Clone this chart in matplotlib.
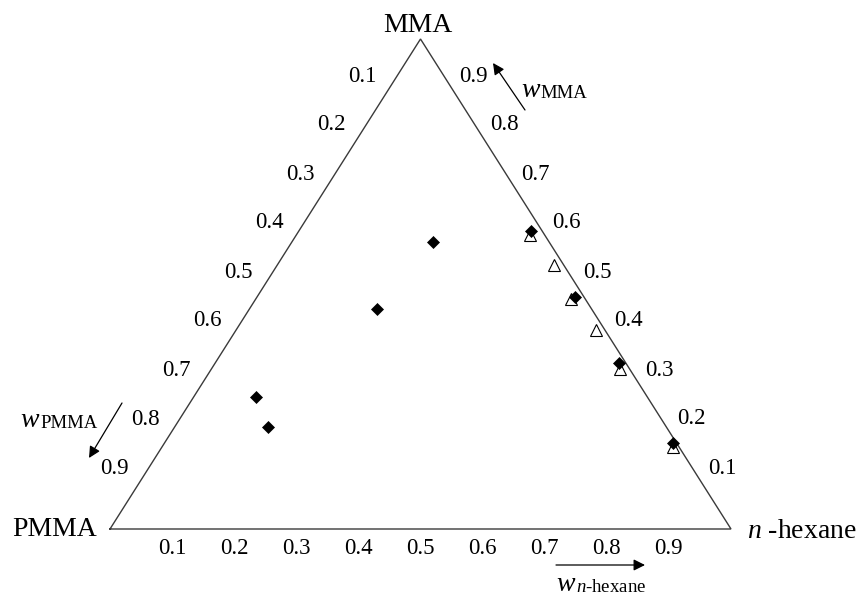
import numpy as np
import matplotlib
matplotlib.use("Agg")
import matplotlib.pyplot as plt
from matplotlib.transforms import offset_copy

plt.rcParams['font.family'] = ['Liberation Serif', 'DejaVu Serif']
plt.rcParams['mathtext.fontset'] = 'custom'
plt.rcParams['mathtext.rm'] = 'Liberation Serif'
plt.rcParams['mathtext.it'] = 'Liberation Serif:italic'

# ---- data (mass fractions) ----
# filled diamonds
dia_pmma = [0.187, 0.345, 0.631, 0.641, 0.018, 0.015, 0.011, 0.005]
dia_mma  = [0.586, 0.450, 0.269, 0.209, 0.609, 0.473, 0.338, 0.176]
dia_hex  = [0.227, 0.205, 0.100, 0.150, 0.373, 0.512, 0.651, 0.819]
# open triangles
tri_pmma = [0.023, 0.016, 0.023, 0.014, 0.016, 0.009]
tri_mma  = [0.600, 0.539, 0.469, 0.406, 0.326, 0.168]
tri_hex  = [0.377, 0.445, 0.508, 0.580, 0.658, 0.823]

tick_vals = [0.1, 0.2, 0.3, 0.4, 0.5, 0.6, 0.7, 0.8, 0.9]
tick_labels = ['0.1', '0.2', '0.3', '0.4', '0.5', '0.6', '0.7', '0.8', '0.9']

W, H = 858, 600
fig = plt.figure(figsize=(W / 100, H / 100), dpi=100)
# triangle corners in pixels: PMMA (110,529), n-hexane (731,529), apex y=39
x0, x1, ytop, ybot = 110, 731, 39, 529
ax = fig.add_axes([x0 / W, 1 - ybot / H, (x1 - x0) / W, (ybot - ytop) / H])
ax.set_xlim(0, 1)
ax.set_ylim(0, 1)
ax.axis('off')


def cart(hexv, mma):
    hexv = np.asarray(hexv, float)
    mma = np.asarray(mma, float)
    return hexv + 0.5 * mma, mma


# triangle outline
tx, ty = cart([0, 1, 0, 0], [0, 0, 1, 0])
ax.plot(tx, ty, color='#3a3a3a', lw=1.0, clip_on=False, solid_joinstyle='miter')

# data
x, y = cart(tri_hex, tri_mma)
ax.plot(x, y, ls='none', marker='^', ms=8, mfc='white', mec='black', mew=0.8,
        clip_on=False, zorder=3)
x, y = cart(dia_hex, dia_mma)
ax.plot(x, y, ls='none', marker='D', ms=6.3, mfc='black', mec='black', mew=0.5,
        clip_on=False, zorder=4)

fs_tick = 16.5
# bottom labels (w n-hexane)
tr_b = offset_copy(ax.transData, fig=fig, x=0, y=-20, units='dots')
for v, lab in zip(tick_vals, tick_labels):
    bx, by = cart(v, 0)
    ax.text(bx, by, lab, transform=tr_b, ha='center', va='center', fontsize=fs_tick)

# right edge labels (w MMA)
tr_r = offset_copy(ax.transData, fig=fig, x=22, y=12, units='dots')
for v, lab in zip(tick_vals, tick_labels):
    rx, ry = cart(1 - v, v)
    ax.text(rx, ry, lab, transform=tr_r, ha='center', va='center', fontsize=fs_tick)

# left edge labels (w PMMA)
tr_l = offset_copy(ax.transData, fig=fig, x=-27, y=12, units='dots')
for v, lab in zip(tick_vals, tick_labels):
    lx, ly = cart(0, 1 - v)
    ax.text(lx, ly, lab, transform=tr_l, ha='center', va='center', fontsize=fs_tick)


def ftext(px, py, s, **kw):
    fig.text(px / W, 1 - py / H, s, **kw)


# corner labels
ftext(417.5, 25, 'MMA', ha='center', va='center', fontsize=20)
ftext(97, 529.5, 'PMMA', ha='right', va='center', fontsize=20)
ftext(747, 531, r'$n$' + ' -hexane', ha='left', va='center', fontsize=20)


# axis-direction labels: italic w followed by a smaller upright subscript
def wlabel(px, py, sub_px, sub):
    ftext(px, py, 'w', ha='left', va='baseline', fontsize=20, style='italic')
    ftext(sub_px, py + 1, sub, ha='left', va='baseline', fontsize=13.5)


wlabel(20, 427, 40, 'PMMA')
wlabel(521, 97, 540, 'MMA')
wlabel(556, 591, 576, r'$n$-hexane')


def arrow(p_from, p_to):
    ax.annotate('', xy=(p_to[0], H - p_to[1]), xytext=(p_from[0], H - p_from[1]),
                xycoords='figure pixels', textcoords='figure pixels',
                arrowprops=dict(arrowstyle='-|>', color='black', lw=0.9,
                                mutation_scale=17, shrinkA=0, shrinkB=0))


arrow((122, 403), (89, 458))
arrow((525, 110), (493, 63))
arrow((556, 565), (645, 565))

fig.savefig('out.png', dpi=100)
